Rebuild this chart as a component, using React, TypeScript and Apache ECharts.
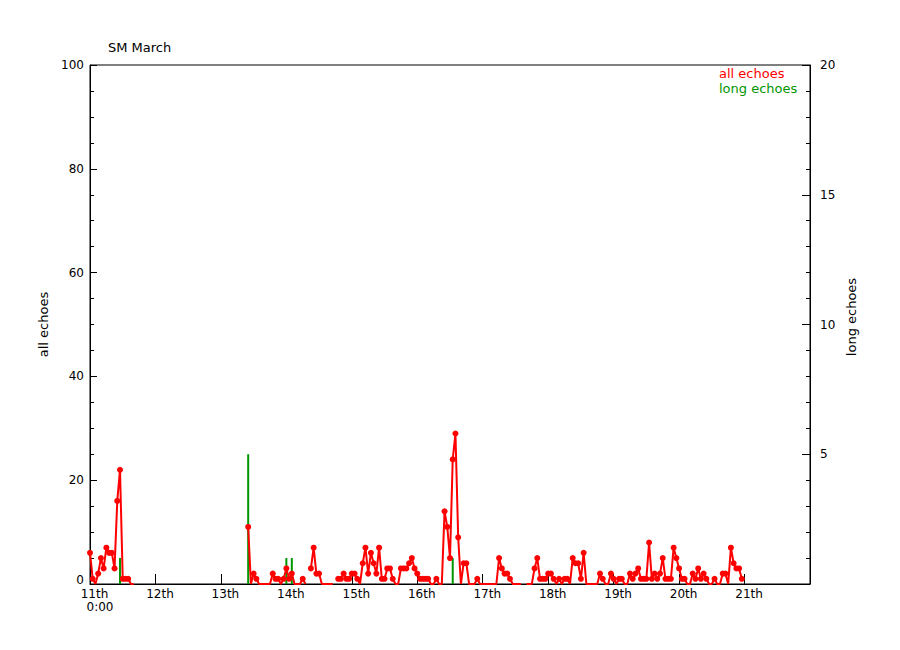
import React, { useEffect, useRef } from "react";
import * as echarts from "echarts";

// hourly "all echoes" counts from 11th 0:00 (null = no data)
const day11 = [6, 1, 0, 2, 5, 3, 7, 6, 6, 3, 16, 22, 1, 1, 1, 0, 0, null, null, null, null, null, null, null];
const day12 = [null, null, null, null, null, null, null, null, null, null, null, null, null, null, null, null, null, null, null, null, null, null, null, null];
const day13 = [null, null, null, null, null, null, null, null, null, null, 11, 0, 2, 1, 0, 0, 0, 0, 0, 2, 1, 1, 0, 1];
const day14 = [3, 1, 2, 0, 0, 0, 1, 0, null, 3, 7, 2, 2, 0, 0, 0, 0, 0, null, 1, 1, 2, 1, 1];
const day15 = [2, 2, 1, 0, 4, 7, 2, 6, 4, 2, 7, 1, 1, 3, 3, 1, 0, 0, 3, 3, 3, 4, 5, 3];
const day16 = [2, 1, 1, 1, 1, 0, 0, 1, 0, 0, 14, 11, 5, 24, 29, 9, 0, 4, 4, 0, 0, 0, 1, 0];
const day17 = [0, 0, 0, 0, 0, 0, 5, 3, 2, 2, 1, 0, 0, 0, 0, null, 0, 0, 0, 3, 5, 1, 1, 1];
const day18 = [2, 2, 1, 0, 1, 0, 1, 1, 0, 5, 4, 4, 1, 6, 0, 0, 0, 0, 0, 2, 1, 0, 0, 2];
const day19 = [1, 0, 1, 1, 0, 0, 2, 1, 2, 3, 1, 1, 1, 8, 1, 2, 1, 2, 5, 1, 1, 1, 7, 5];
const day20 = [3, 1, 1, 0, 0, 2, 1, 3, 1, 2, 1, 0, 0, 1, 0, 0, 2, 2, 0, 7, 4, 3, 3, 1];
const allEchoes = [...day11, ...day12, ...day13, ...day14, ...day15, ...day16, ...day17, ...day18, ...day19, ...day20];

// "long echoes": hour index and count
const longHours = [11, 58, 72, 74, 133];
const longValues = [1, 5, 1, 1, 1];

const dayLabels = ["11th", "12th", "13th", "14th", "15th", "16th", "17th", "18th", "19th", "20th", "21th"];

const FONT = "DejaVu Sans";
const RED = "#ff0000";
const GREEN = "#009600";

export default function App() {
  const ref = useRef<HTMLDivElement>(null);
  useEffect(() => {
    if (!ref.current) return;
    const chart = echarts.init(ref.current, null, { renderer: "svg" });
    chart.setOption({
      animation: false,
      backgroundColor: "#ffffff",
      title: {
        text: "SM March",
        left: 103,
        top: 36,
        textStyle: { fontSize: 13, fontWeight: "normal", color: "#000", fontFamily: FONT },
      },
      legend: {
        orient: "vertical",
        left: 709,
        top: 61,
        icon: "none",
        itemWidth: 0,
        itemHeight: 14,
        itemGap: 1,
        selectedMode: false,
        textStyle: { fontSize: 13, fontFamily: FONT, lineHeight: 14 },
        data: [
          { name: "all echoes", textStyle: { color: RED } },
          { name: "long echoes", textStyle: { color: GREEN } },
        ],
      },
      grid: {
        left: 90,
        right: 90,
        top: 65,
        bottom: 66,
        show: true,
        borderColor: "#000",
        borderWidth: 1,
        backgroundColor: "transparent",
        containLabel: false,
      },
      xAxis: {
        type: "value",
        min: 0,
        max: 264,
        interval: 24,
        axisLine: { show: true, lineStyle: { color: "#000", width: 1 } },
        axisTick: { show: true, inside: true, length: 10, lineStyle: { color: "#000" } },
        splitLine: { show: false },
        axisLabel: {
          margin: 3,
          color: "#000",
          fontSize: 12,
          fontFamily: FONT,
          lineHeight: 13,
          formatter: (v: number) => {
            const i = Math.round(v / 24);
            if (i >= dayLabels.length) return "";
            return i === 0 ? `{a|${dayLabels[0]}}\n{b|0:00}` : `{a|${dayLabels[i]}}`;
          },
          rich: {
            a: { fontSize: 12, fontFamily: FONT, color: "#000", padding: [0, 0, 0, 9], lineHeight: 13 },
            b: { fontSize: 12, fontFamily: FONT, color: "#000", padding: [0, 0, 0, 20], lineHeight: 14 },
          },
        },
      },
      yAxis: [
        {
          type: "value",
          min: 0,
          max: 100,
          interval: 20,
          position: "left",
          name: "all echoes",
          nameLocation: "middle",
          nameRotate: 90,
          nameGap: 38,
          nameTextStyle: { color: "#000", fontSize: 13, fontFamily: FONT },
          axisLine: { show: true, lineStyle: { color: "#000" } },
          axisTick: { show: true, inside: true, length: 7, lineStyle: { color: "#000" } },
          minorTick: { show: true, splitNumber: 4, length: 4, lineStyle: { color: "#000" } },
          splitLine: { show: false },
          axisLabel: {
            color: "#000",
            fontSize: 12,
            fontFamily: FONT,
            margin: 6,
            formatter: (v: number) => (v === 0 ? "{z|0}" : String(v)),
            rich: { z: { fontSize: 12, fontFamily: FONT, color: "#000", padding: [0, 0, 9, 0] } },
          },
        },
        {
          type: "value",
          min: 0,
          max: 20,
          interval: 5,
          position: "right",
          axisLine: { show: true, lineStyle: { color: "#000" } },
          axisTick: { show: true, inside: true, length: 8, lineStyle: { color: "#000" } },
          minorTick: { show: true, splitNumber: 5, length: 4, lineStyle: { color: "#000" } },
          splitLine: { show: false },
          axisLabel: {
            color: "#000",
            fontSize: 12,
            fontFamily: FONT,
            margin: 10,
            formatter: (v: number) => (v === 0 ? "" : String(v)),
          },
        },
      ],
      graphic: [
        {
          type: "text",
          x: 851,
          y: 317,
          rotation: Math.PI / 2,
          style: {
            text: "long echoes",
            fill: "#000",
            font: `13px "${FONT}"`,
            align: "center",
            verticalAlign: "middle",
          },
        },
      ],
      series: [
        {
          name: "long echoes",
          type: "bar",
          xAxisIndex: 0,
          yAxisIndex: 1,
          barWidth: 2,
          itemStyle: { color: GREEN },
          data: longHours.map((h, i) => [h, longValues[i]]),
          z: 2,
        },
        {
          name: "all echoes",
          type: "line",
          xAxisIndex: 0,
          yAxisIndex: 0,
          connectNulls: false,
          symbol: "circle",
          symbolSize: (val: any) => (val && val[1] > 0 ? 6 : 0),
          lineStyle: { color: RED, width: 2 },
          itemStyle: { color: RED },
          data: allEchoes.map((v, i) => [i, v]),
          z: 3,
        },
      ],
    });
    return () => chart.dispose();
  }, []);
  return (
    <div
      ref={ref}
      style={{ position: "fixed", left: 0, top: 0, width: 900, height: 650, background: "#fff" }}
    />
  );
}
